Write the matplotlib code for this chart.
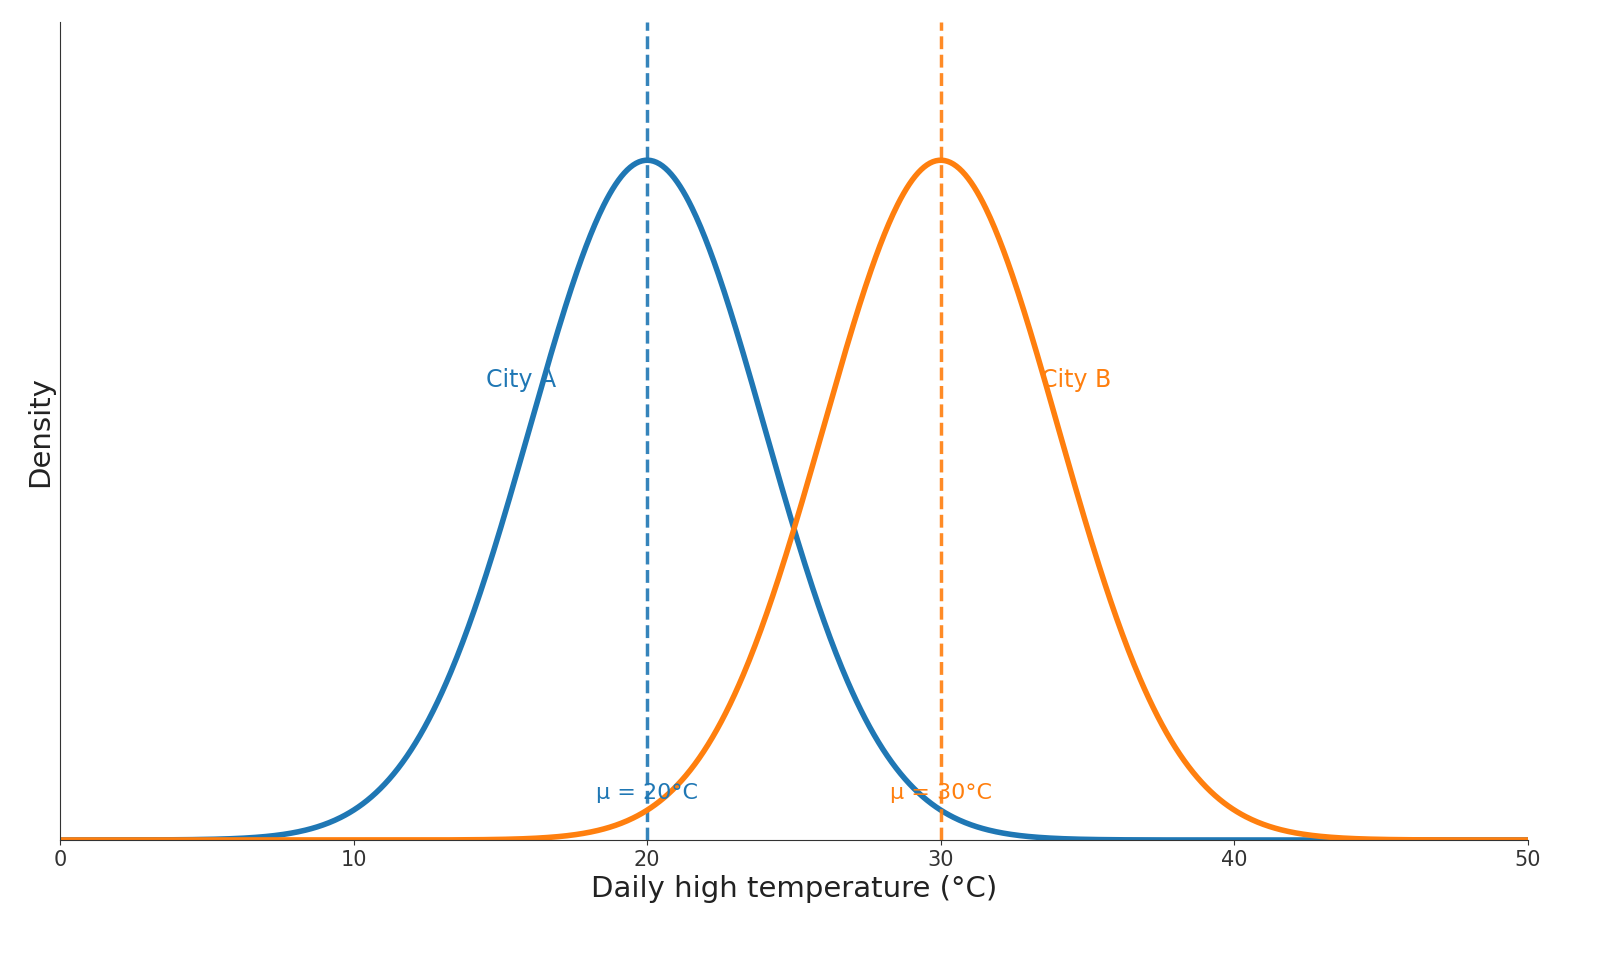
import numpy as np
import matplotlib
matplotlib.use("Agg")
import matplotlib.pyplot as plt

cities = ["City A", "City B"]
means = [20, 30]
sigmas = [4, 4]
colors = ["#1f77b4", "#ff7f0e"]
label_x = [14.5, 33.4]
label_y = 0.0675
xticks = [0, 10, 20, 30, 40, 50]

fig = plt.figure(figsize=(16, 9.6), dpi=100)
ax = fig.add_axes([0.0375, 0.125, 0.9175, 0.852])
x = np.linspace(0, 50, 1000)
for c, m, s, col, lx in zip(cities, means, sigmas, colors, label_x):
    y = np.exp(-(x - m) ** 2 / (2 * s ** 2)) / (s * np.sqrt(2 * np.pi))
    ax.plot(x, y, color=col, lw=4)
    ax.axvline(m, color=col, ls="--", lw=2.5, alpha=0.9)
    ax.text(lx, label_y, c, color=col, fontsize=17, ha="left", va="center")
    ax.text(m, 0.0069, f"μ = {m}°C", color=col, fontsize=16, ha="center", va="center")

ax.set_xlim(0, 50)
ax.set_ylim(0, 0.12)
ax.set_xticks(xticks)
ax.set_yticks([])
ax.tick_params(axis="x", labelsize=15, colors="#333333")
ax.set_xlabel("Daily high temperature (°C)", fontsize=21, color="#222222")
ax.set_ylabel("Density", fontsize=21, color="#222222")
for sp in ["top", "right"]:
    ax.spines[sp].set_visible(False)
for sp in ["left", "bottom"]:
    ax.spines[sp].set_color("#333333")
fig.savefig("out.png", dpi=100)
